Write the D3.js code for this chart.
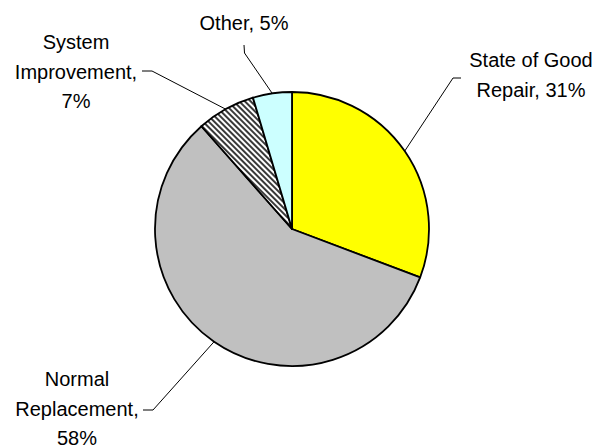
<!DOCTYPE html>
<html><head><meta charset="utf-8">
<script src="https://cdn.jsdelivr.net/npm/d3@7"></script>
<style>html,body{margin:0;padding:0;background:#fff;}svg{display:block;}</style>
</head><body>
<svg id="c" width="602" height="445"></svg>
<script>
const categories = ["State of Good Repair", "Normal Replacement", "System Improvement", "Other"];
const values = [30.75, 57.75, 6.9, 4.6];
const labelLines = [["State of Good", "Repair, 31%"], ["Normal", "Replacement,", "58%"], ["System", "Improvement,", "7%"], ["Other, 5%"]];
const fills = ["#ffff00", "#c0c0c0", "url(#hatch)", "#ccffff"];

// layout of labels (text anchor x, first baseline y, leader elbow points)
const labelLayout = [
  {x: 531, y: 67, elbow: [[461, 78], [453, 78]]},
  {x: 77, y: 386, elbow: [[143, 410], [153, 410]]},
  {x: 76, y: 49, elbow: [[142, 71], [152, 71]]},
  {x: 244, y: 30, elbow: [[244, 45], [244.5, 53]]}
];

const W = 602, H = 445, cx = 292, cy = 229, R = 137, lineH = 29.5;
const svg = d3.select("#c");
const defs = svg.append("defs");
const pat = defs.append("pattern").attr("id", "hatch").attr("patternUnits", "userSpaceOnUse")
  .attr("width", 4).attr("height", 4).attr("patternTransform", "rotate(-45)");
pat.append("rect").attr("width", 4).attr("height", 4).attr("fill", "#fff");
pat.append("rect").attr("width", 2).attr("height", 4).attr("fill", "#3a3a3a");

const pie = d3.pie().sort(null).value(d => d);
const arcs = pie(values);
const arc = d3.arc().innerRadius(0).outerRadius(R);
const g = svg.append("g").attr("transform", `translate(${cx},${cy})`);

// leader lines
arcs.forEach((a, i) => {
  const m = (a.startAngle + a.endAngle) / 2;
  const px = cx + R * Math.sin(m), py = cy - R * Math.cos(m);
  const pts = labelLayout[i].elbow.concat([[px, py]]);
  svg.append("path").attr("d", d3.line()(pts)).attr("fill", "none").attr("stroke", "#000").attr("stroke-width", 1);
});

g.selectAll("path.s").data(arcs).join("path").attr("class", "s")
  .attr("d", arc).attr("fill", (d, i) => fills[i])
  .attr("stroke", "#000").attr("stroke-width", 1.8).attr("stroke-linejoin", "round");

labelLines.forEach((lines, i) => {
  const t = svg.append("text").attr("text-anchor", "middle")
    .attr("font-family", "Liberation Sans, Arial, sans-serif").attr("font-size", 20).attr("fill", "#000");
  lines.forEach((ln, j) => {
    t.append("tspan").attr("x", labelLayout[i].x).attr("y", labelLayout[i].y + j * lineH).text(ln);
  });
});
</script>
</body></html>
